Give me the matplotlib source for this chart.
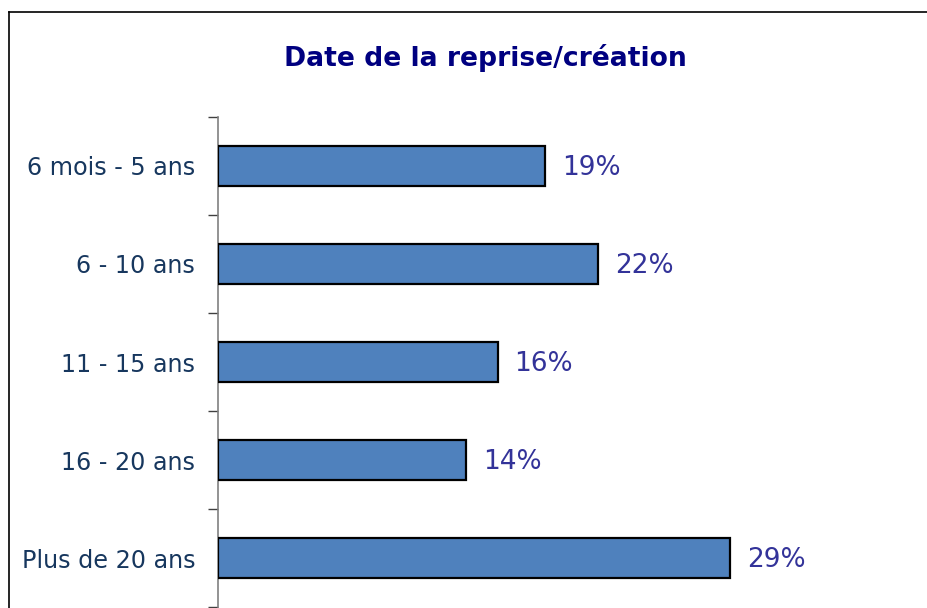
import matplotlib
matplotlib.use("Agg")
import matplotlib.pyplot as plt
from matplotlib.lines import Line2D

categories = ["6 mois - 5 ans", "6 - 10 ans", "11 - 15 ans", "16 - 20 ans", "Plus de 20 ans"]
values = [18.6, 21.6, 15.9, 14.1, 29.1]
labels = ["19%", "22%", "16%", "14%", "29%"]

fig = plt.figure(figsize=(9.28, 6.08), dpi=100, facecolor="white")

# chart frame (only top and left edges visible, the rest is cropped)
fig.add_artist(Line2D([9 / 928, 9 / 928], [0, 1 - 12 / 608], transform=fig.transFigure, color="black", lw=1.2))
fig.add_artist(Line2D([9 / 928, 1], [1 - 12 / 608, 1 - 12 / 608], transform=fig.transFigure, color="black", lw=1.2))

ax = fig.add_axes([218 / 928, 1 / 608, 680 / 928, 490 / 608])

y = list(range(len(categories)))
ax.barh(y, values, height=0.4, color="#4F81BD", edgecolor="black", linewidth=1.6, zorder=3)

for yi, v, lab in zip(y, values, labels):
    ax.text(v + 0.95, yi + 0.02, lab, va="center", ha="left", fontsize=19, color="#333399")

ax.set_ylim(len(categories) - 0.5, -0.5)
ax.set_xlim(0, 680 / 17.6)

ax.set_yticks(y)
ax.set_yticklabels(categories, fontsize=17.2, color="#17375E")
ax.set_yticks([i - 0.5 for i in range(len(categories) + 1)], minor=True)
ax.tick_params(axis="y", which="major", length=0, pad=16.5)
ax.tick_params(axis="y", which="minor", length=7, width=1, color="#404040", direction="out")
ax.set_xticks([])

for side in ["top", "right", "bottom"]:
    ax.spines[side].set_visible(False)
ax.spines["left"].set_color("#808080")
ax.spines["left"].set_linewidth(1.2)

fig.text(485 / 928, 1 - 58 / 608, "Date de la reprise/création", ha="center", va="center",
         fontsize=19.2, fontweight="bold", color="#000080")

fig.savefig("out.png", dpi=100, facecolor="white")
